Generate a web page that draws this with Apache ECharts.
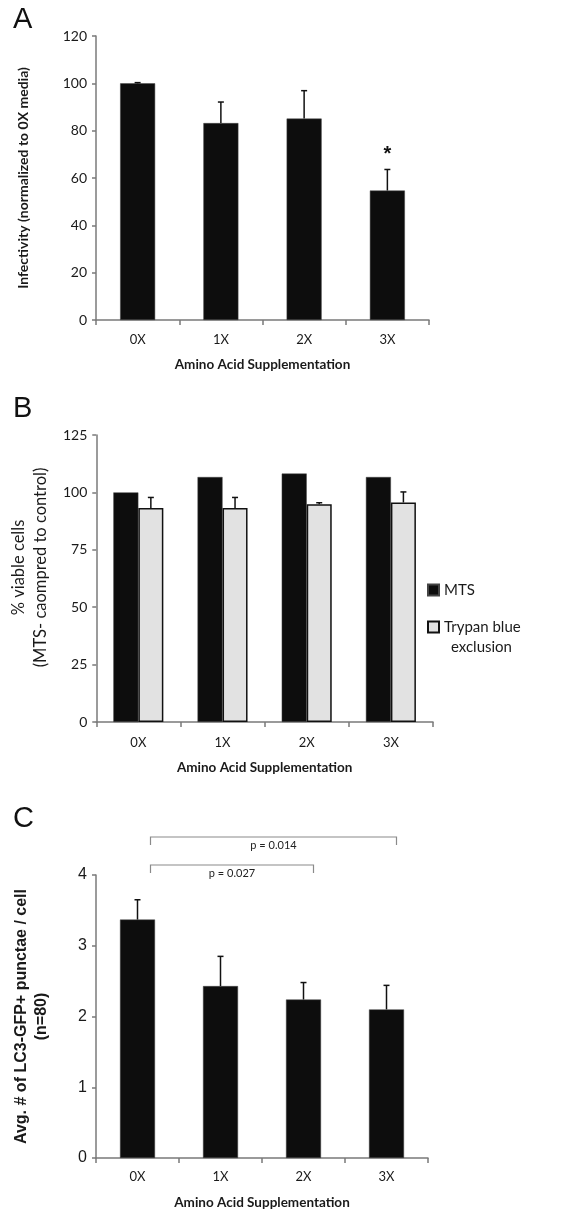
<!DOCTYPE html>
<html><head><meta charset="utf-8">
<script src="https://cdn.jsdelivr.net/npm/echarts@6/dist/echarts.min.js"></script>
<style>html,body{margin:0;padding:0;background:#fff}#c{width:569px;height:1211px}</style>
</head><body><div id="c"></div>
<script>
// ---- data ----
const categories = ['0X', '1X', '2X', '3X'];
const infectivity = [100, 83.2, 85.1, 54.7];
const infectivityErr = [0.3, 8.9, 11.8, 8.9];
const infectivitySig = ['', '', '', '*'];
const mts = [100, 106.7, 108.2, 106.7];
const trypan = [93.2, 93.2, 94.8, 95.6];
const trypanErr = [4.6, 4.6, 0.7, 4.6];
const punctae = [3.37, 2.43, 2.24, 2.10];
const punctaeErr = [0.28, 0.42, 0.24, 0.34];
const pBrackets = [
  { from: 0, to: 2, label: 'p = 0.027', level: 0 },
  { from: 0, to: 3, label: 'p = 0.014', level: 1 }
];
const xTitle = 'Amino Acid Supplementation';

// ---- styles ----
const HUM = 'Lato, "Open Sans", sans-serif';
const ARIAL = '"Liberation Sans", Arial, sans-serif';
const TXT = '#1a1a1a';
const AX = '#7a7a7a';
const BAR = '#0d0d0d';

function xAxis(gi, margin, gap) {
  return {
    type: 'category', gridIndex: gi, data: categories,
    axisLine: { lineStyle: { color: AX, width: 1.5 } },
    axisTick: { show: true, length: 5, lineStyle: { color: AX, width: 1.5 } },
    axisLabel: { color: TXT, fontFamily: HUM, fontSize: 13, margin: margin },
    name: xTitle, nameLocation: 'middle', nameGap: gap,
    nameTextStyle: { color: TXT, fontFamily: HUM, fontWeight: 'bold', fontSize: 13.5 }
  };
}
function yAxis(gi, max, interval, name, gap, nts, lfont) {
  return {
    type: 'value', gridIndex: gi, min: 0, max: max, interval: interval,
    splitLine: { show: false },
    axisLine: { show: true, lineStyle: { color: AX, width: 1.5 } },
    axisTick: { show: true, length: 4, lineStyle: { color: AX, width: 1.5 } },
    axisLabel: Object.assign({ color: TXT, margin: 9 }, lfont),
    name: name, nameLocation: 'middle', nameRotate: 90, nameGap: gap,
    nameTextStyle: Object.assign({ color: TXT }, nts)
  };
}
function errSeries(idx, vals, errs, offset, sig) {
  return {
    type: 'custom', xAxisIndex: idx, yAxisIndex: idx, silent: true, z: 5,
    encode: { x: 0, y: [1, 2] },
    data: vals.map((v, i) => [i, v, v + errs[i]]),
    renderItem(params, api) {
      const base = api.coord([api.value(0), api.value(1)]);
      const top = api.coord([api.value(0), api.value(2)]);
      const x = top[0] + offset;
      const st = { stroke: '#111', lineWidth: 1.5 };
      const ch = [
        { type: 'line', shape: { x1: x, y1: base[1], x2: x, y2: top[1] }, style: st },
        { type: 'line', shape: { x1: x - 3, y1: top[1], x2: x + 3, y2: top[1] }, style: st }
      ];
      if (sig && sig[params.dataIndex]) {
        ch.push({ type: 'text', x: x, y: top[1] - 15,
          style: { text: sig[params.dataIndex], fill: '#111', font: 'bold 20px ' + ARIAL, align: 'center', verticalAlign: 'middle' } });
      }
      return { type: 'group', children: ch };
    }
  };
}

const legendText = { color: TXT, fontFamily: HUM, fontSize: 15, lineHeight: 20 };

const option = {
  animation: false,
  backgroundColor: '#fff',
  grid: [
    { left: 96, top: 36, width: 333, height: 284 },
    { left: 96, top: 435, width: 337, height: 287 },
    { left: 96, top: 875, width: 332, height: 283 }
  ],
  xAxis: [xAxis(0, 13, 38), xAxis(1, 14, 39), xAxis(2, 12, 38)],
  yAxis: [
    yAxis(0, 120, 20, 'Infectivity (normalized to 0X media)', 66,
      { fontFamily: HUM, fontWeight: 'bold', fontSize: 14 }, { fontFamily: HUM, fontSize: 14 }),
    yAxis(1, 125, 25, '% viable cells\n(MTS- caompred to control)', 43,
      { fontFamily: HUM, fontSize: 16.5, lineHeight: 22, padding: [0, 0, 0, 22] }, { fontFamily: HUM, fontSize: 14 }),
    yAxis(2, 4, 1, 'Avg. # of LC3-GFP+ punctae / cell\n(n=80)', 44,
      { fontFamily: ARIAL, fontWeight: 'bold', fontSize: 16, lineHeight: 20 }, { fontFamily: ARIAL, fontSize: 16 })
  ],
  legend: [
    { data: ['MTS'], orient: 'vertical', left: 427, top: 580, padding: 0,
      itemWidth: 11, itemHeight: 11, icon: 'rect',
      textStyle: legendText },
    { data: ['Trypan blue exclusion'], orient: 'vertical', left: 427, top: 597, padding: 0,
      itemWidth: 11, itemHeight: 11, icon: 'rect',
      formatter: () => ' \nTrypan blue\n{x|exclusion}',
      textStyle: Object.assign({}, legendText, {
        rich: { x: Object.assign({}, legendText, { padding: [0, 0, 0, 7] }) }
      }) }
  ],
  graphic: [
    { type: 'text', left: 13, top: 5, style: { text: 'A', font: '29px ' + ARIAL, fill: '#111' } },
    { type: 'text', left: 13, top: 394, style: { text: 'B', font: '29px ' + ARIAL, fill: '#111' } },
    { type: 'text', left: 13, top: 804, style: { text: 'C', font: '29px ' + ARIAL, fill: '#111' } }
  ],
  series: [
    { type: 'bar', xAxisIndex: 0, yAxisIndex: 0, data: infectivity, barWidth: 35,
      itemStyle: { color: BAR, borderColor: '#444', borderWidth: 0.5 } },
    errSeries(0, infectivity, infectivityErr, 0, infectivitySig),
    { type: 'bar', name: 'MTS', xAxisIndex: 1, yAxisIndex: 1, data: mts, barWidth: 25, barGap: '0%',
      itemStyle: { color: BAR, borderColor: '#444', borderWidth: 0.5 } },
    { type: 'bar', name: 'Trypan blue exclusion', xAxisIndex: 1, yAxisIndex: 1, data: trypan, barWidth: 25, barGap: '0%',
      itemStyle: { color: '#e2e2e2', borderColor: '#111', borderWidth: 1.5 } },
    errSeries(1, trypan, trypanErr, 12.5, null),
    { type: 'bar', xAxisIndex: 2, yAxisIndex: 2, data: punctae, barWidth: 35,
      itemStyle: { color: BAR, borderColor: '#444', borderWidth: 0.5 } },
    errSeries(2, punctae, punctaeErr, 0, null),
    {
      type: 'custom', xAxisIndex: 2, yAxisIndex: 2, silent: true, clip: false,
      encode: { x: 0, y: 3 },
      data: pBrackets.map(b => [b.from, b.to, b.level, 4]),
      renderItem(params, api) {
        const b = pBrackets[params.dataIndex];
        const p1 = api.coord([api.value(0), api.value(3)]);
        const p2 = api.coord([api.value(1), api.value(3)]);
        const y = p1[1] - 10 - b.level * 28;
        const x1 = p1[0] + 13, x2 = p2[0] + 10;
        const st = { stroke: '#8a8a8a', lineWidth: 1.2, fill: null };
        return { type: 'group', children: [
          { type: 'polyline', shape: { points: [[x1, y + 8], [x1, y], [x2, y], [x2, y + 8]] }, style: st },
          { type: 'text', x: (x1 + x2) / 2, y: y + 8,
            style: { text: b.label, font: '11px ' + HUM, fill: '#222', align: 'center', verticalAlign: 'middle' } }
        ] };
      }
    }
  ]
};
const chart = echarts.init(document.getElementById('c'), null, { renderer: 'canvas' });
chart.setOption(option);
</script></body></html>
